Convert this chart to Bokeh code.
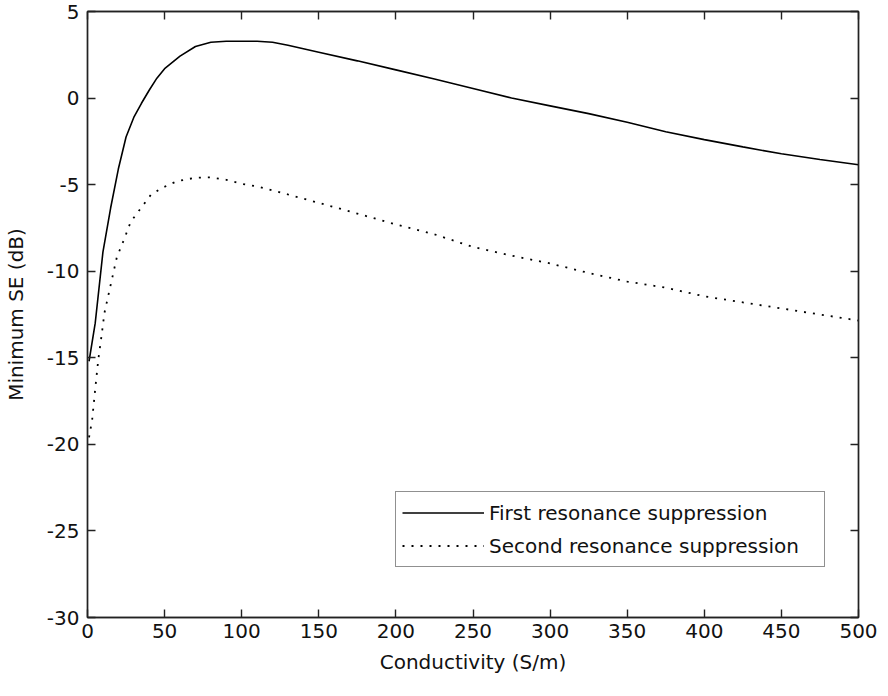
from bokeh.plotting import figure
from bokeh.models import LinearAxis, FixedTicker, Legend, LegendItem, Range1d, PrintfTickFormatter
from bokeh.embed import file_html
from bokeh.resources import INLINE

# ---- data ----
sigma_first = [1, 5, 10, 15, 20, 25, 30, 35, 40, 45, 50, 60, 70, 80, 90, 100, 110, 120,
               130, 140, 150, 175, 200, 225, 250, 275, 300, 325, 350, 375, 400, 425, 450, 475, 500]
se_first = [-15.2, -13.0, -8.9, -6.35, -4.1, -2.25, -1.12, -0.3, 0.45, 1.15, 1.7, 2.42, 2.98, 3.22,
            3.28, 3.28, 3.28, 3.22, 3.05, 2.85, 2.65, 2.15, 1.63, 1.1, 0.55, 0.0, -0.45, -0.9,
            -1.4, -1.95, -2.4, -2.82, -3.22, -3.55, -3.85]

sigma_second = [1, 3, 5, 7, 9, 11, 15, 19, 24, 28, 33, 41, 48, 58, 70, 80, 90, 100, 110, 125,
                150, 175, 200, 225, 250, 275, 300, 325, 350, 375, 400, 425, 450, 475, 500]
se_second = [-19.6, -18.6, -16.8, -15.1, -13.8, -12.4, -10.8, -9.2, -8.1, -7.15, -6.55, -5.6,
             -5.2, -4.8, -4.6, -4.58, -4.72, -4.95, -5.1, -5.45, -6.05, -6.67, -7.3, -7.87,
             -8.6, -9.1, -9.55, -10.1, -10.6, -10.95, -11.45, -11.8, -12.15, -12.5, -12.85]

x_ticks = [0, 50, 100, 150, 200, 250, 300, 350, 400, 450, 500]
y_ticks = [-30, -25, -20, -15, -10, -5, 0, 5]

series_labels = ["First resonance suppression", "Second resonance suppression"]
x_label = "Conductivity (S/m)"
y_label = "Minimum SE (dB)"

FONT = "DejaVu Sans"
FS = "20px"
AX = "#222222"
TXT = "#111111"

p = figure(width=878, height=680,
           x_range=Range1d(0, 500), y_range=Range1d(-30, 5),
           output_backend="svg", toolbar_location=None,
           min_border_left=83, min_border_right=20, min_border_top=11, min_border_bottom=63,
           background_fill_color="white", border_fill_color="white")

p.xgrid.visible = False
p.ygrid.visible = False
p.outline_line_color = AX
p.outline_line_width = 1.4


def style_axis(ax, show_labels=True):
    ax.axis_line_color = AX
    ax.axis_line_width = 1.4
    ax.major_tick_line_color = AX
    ax.major_tick_line_width = 1.4
    ax.major_tick_in = 8
    ax.major_tick_out = 0
    ax.minor_tick_line_color = None
    ax.major_label_text_font = FONT
    ax.formatter = PrintfTickFormatter(format="%d")
    if show_labels:
        ax.major_label_text_font_size = FS
        ax.major_label_text_color = TXT
    else:
        ax.major_label_text_font_size = "1px"
        ax.major_label_text_color = None
        ax.major_label_standoff = 0
    ax.axis_label_text_font = FONT
    ax.axis_label_text_font_size = FS
    ax.axis_label_text_font_style = "normal"
    ax.axis_label_text_color = TXT


xa = p.xaxis[0]
xa.ticker = FixedTicker(ticks=x_ticks)
style_axis(xa)
xa.major_label_standoff = 6
xa.axis_label = x_label
xa.axis_label_standoff = 9

ya = p.yaxis[0]
ya.ticker = FixedTicker(ticks=y_ticks)
style_axis(ya)
ya.major_label_standoff = 8
ya.axis_label = y_label
ya.axis_label_standoff = 16

top_ax = LinearAxis(ticker=FixedTicker(ticks=x_ticks))
style_axis(top_ax, show_labels=False)
p.add_layout(top_ax, "above")

right_ax = LinearAxis(ticker=FixedTicker(ticks=y_ticks))
style_axis(right_ax, show_labels=False)
p.add_layout(right_ax, "right")

r1 = p.line(sigma_first, se_first, line_color="black", line_width=1.6)
r2 = p.line(sigma_second, se_second, line_color="black", line_width=1.8,
            line_dash="2 7")

legend = Legend(items=[LegendItem(label=series_labels[0], renderers=[r1]),
                       LegendItem(label=series_labels[1], renderers=[r2])],
                location=(308, 50))
legend.label_text_font = FONT
legend.label_text_font_size = FS
legend.label_text_color = TXT
legend.border_line_color = AX
legend.border_line_width = 1.4
legend.background_fill_color = "white"
legend.background_fill_alpha = 1.0
legend.padding = 6
legend.spacing = 4
legend.margin = 0
legend.glyph_width = 82
legend.glyph_height = 29
legend.label_height = 29
legend.label_standoff = 5
legend.label_width = 329
p.add_layout(legend)

open("out.html", "w").write(file_html(p, INLINE))
